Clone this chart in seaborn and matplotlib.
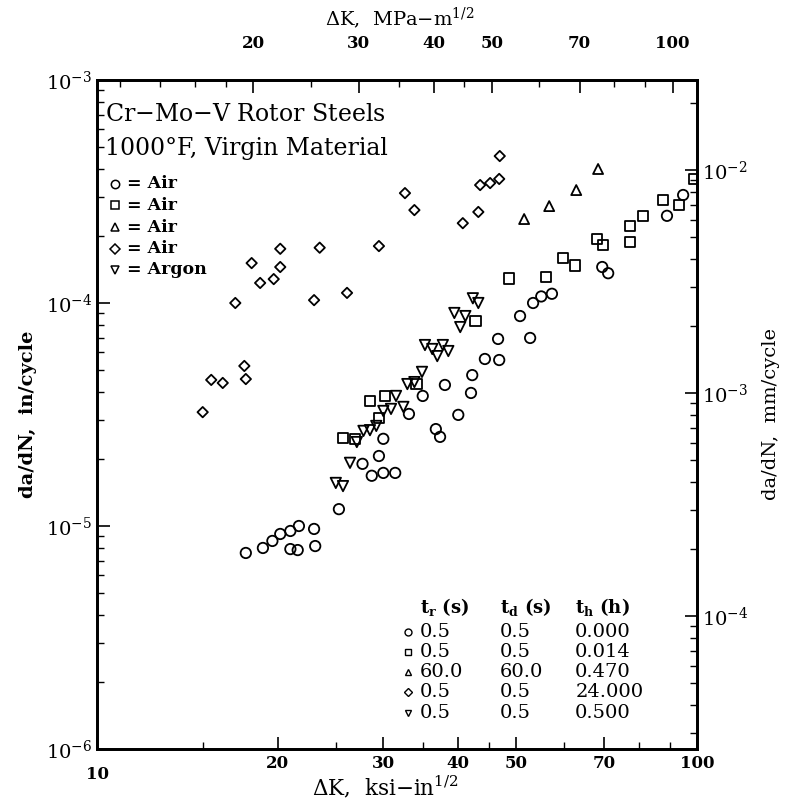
import numpy as np
import pandas as pd
import matplotlib
matplotlib.use("Agg")
import matplotlib.pyplot as plt
import seaborn as sns
from matplotlib.ticker import FixedLocator, NullFormatter, LogLocator

sns.set_theme(style="ticks")
plt.rcParams['font.family'] = ['DejaVu Serif']
plt.rcParams['mathtext.fontset'] = 'dejavuserif'
for k in ["text.color", "axes.labelcolor", "xtick.color", "ytick.color", "axes.edgecolor"]:
    plt.rcParams[k] = "black"

# ---- data: dK (ksi-in^1/2), da/dN (in/cycle) ----
circ_dk = [17.7, 18.9, 19.6, 20.2, 21.0, 21.7, 21.0, 21.6, 23.0, 23.1, 25.3, 27.7, 28.7, 30.0,
           31.4, 29.5, 30.0, 33.1, 34.9, 36.7, 37.3, 38.0, 40.0, 42.0, 42.2, 44.3, 46.6, 46.8,
           50.7, 53.3, 55.0, 57.3, 69.5, 71.1, 89.1, 94.8, 52.7]
circ_da = [7.57e-6, 7.97e-6, 8.57e-6, 9.21e-6, 9.5e-6, 1.0e-5, 7.88e-6, 7.8e-6, 9.7e-6, 8.13e-6,
           1.19e-5, 1.90e-5, 1.68e-5, 1.73e-5, 1.73e-5, 2.06e-5, 2.46e-5, 3.18e-5, 3.83e-5,
           2.72e-5, 2.51e-5, 4.29e-5, 3.15e-5, 3.95e-5, 4.75e-5, 5.61e-5, 6.9e-5, 5.55e-5,
           8.74e-5, 1.0e-4, 1.07e-4, 1.10e-4, 1.45e-4, 1.36e-4, 2.46e-4, 3.05e-4, 6.97e-5]

sq_dk = [25.7, 26.9, 28.5, 30.2, 29.5, 34.1, 42.7, 48.6, 56.0, 59.8, 62.6, 68.1, 69.7, 77.3,
         77.3, 81.3, 87.8, 93.3, 98.9]
sq_da = [2.48e-5, 2.46e-5, 3.64e-5, 3.83e-5, 3.05e-5, 4.33e-5, 8.3e-5, 1.29e-4, 1.31e-4,
         1.59e-4, 1.47e-4, 1.94e-4, 1.82e-4, 2.21e-4, 1.88e-4, 2.46e-4, 2.90e-4, 2.75e-4, 3.60e-4]

tri_dk = [51.5, 56.7, 62.9, 68.4]
tri_da = [2.38e-4, 2.72e-4, 3.21e-4, 3.99e-4]

dia_dk = [17.0, 18.1, 18.7, 19.7, 20.2, 20.2, 23.0, 23.5, 26.1, 29.5, 32.6, 33.8, 40.7, 43.2,
          43.5, 45.2, 46.8, 46.9, 15.0, 15.5, 16.2, 17.6, 17.7]
dia_da = [1.0e-4, 1.51e-4, 1.23e-4, 1.28e-4, 1.75e-4, 1.45e-4, 1.03e-4, 1.77e-4, 1.11e-4,
          1.80e-4, 3.11e-4, 2.61e-4, 2.28e-4, 2.56e-4, 3.38e-4, 3.45e-4, 3.6e-4, 4.56e-4,
          3.24e-5, 4.52e-5, 4.38e-5, 5.22e-5, 4.56e-5]

arg_dk = [42.3, 43.2, 39.4, 41.1, 40.3, 35.2, 36.2, 36.9, 37.7, 38.5, 34.8, 32.9, 33.8, 31.5,
          32.4, 30.9, 30.0, 29.2, 28.5, 27.8, 27.1, 26.4, 25.0, 25.7]
arg_da = [1.05e-4, 1.0e-4, 9.02e-5, 8.74e-5, 7.8e-5, 6.48e-5, 6.22e-5, 5.78e-5, 6.48e-5,
          6.09e-5, 4.91e-5, 4.33e-5, 4.42e-5, 3.83e-5, 3.42e-5, 3.35e-5, 3.28e-5, 2.81e-5,
          2.69e-5, 2.67e-5, 2.38e-5, 1.92e-5, 1.56e-5, 1.51e-5]

legend_env = ["Air", "Air", "Air", "Air", "Argon"]
tr_vals = ["0.5", "0.5", "60.0", "0.5", "0.5"]
td_vals = ["0.5", "0.5", "60.0", "0.5", "0.5"]
th_vals = ["0.000", "0.014", "0.470", "24.000", "0.500"]

x_ticks = [10, 20, 30, 40, 50, 70, 100]
top_ticks = [20, 30, 40, 50, 70, 100]

series = [
    ("circle", circ_dk, circ_da, "o", 56),
    ("square", sq_dk, sq_da, "s", 58),
    ("triangle", tri_dk, tri_da, "^", 52),
    ("diamond", dia_dk, dia_da, "D", 28),
    ("argon", arg_dk, arg_da, "v", 56),
]

fig = plt.figure(figsize=(7.94, 8.0), dpi=100)
ax = fig.add_axes([0.1222, 0.06375, 0.7557, 0.83625])

for name, xs, ys, mk, sz in series:
    df = pd.DataFrame({"dK": xs, "dadN": ys})
    sns.scatterplot(data=df, x="dK", y="dadN", marker=mk, s=sz, facecolors="none",
                    edgecolor="black", linewidth=1.3, ax=ax, legend=False, zorder=3)

ax.set_xscale("log")
ax.set_yscale("log")
ax.set_xlim(10, 100)
ax.set_ylim(1e-6, 1e-3)

# bottom x ticks
ax.xaxis.set_major_locator(FixedLocator(x_ticks))
ax.xaxis.set_minor_locator(FixedLocator([15, 25, 35, 45, 60, 80, 90]))
ax.set_xticklabels([str(v) for v in x_ticks], fontsize=12, fontweight="bold")
ax.xaxis.set_minor_formatter(NullFormatter())
for lbl in ax.get_xticklabels():
    if lbl.get_text() == "10":
        lbl.set_y(-0.017)
ax.set_xlabel(r"$\Delta$K,  ksi$-$in$^{1/2}$", fontsize=15.5)
ax.xaxis.set_label_coords(0.48, -0.037)

ax.yaxis.set_major_locator(FixedLocator([1e-6, 1e-5, 1e-4, 1e-3]))
ax.yaxis.set_minor_locator(LogLocator(base=10, subs=np.arange(2, 10)))
ax.yaxis.set_minor_formatter(NullFormatter())
ax.set_yticklabels([r"10$^{-6}$", r"10$^{-5}$", r"10$^{-4}$", r"10$^{-3}$"], fontsize=14)
ax.set_ylabel("da/dN,  in/cycle", fontsize=14, fontweight="bold", labelpad=6)

ax.tick_params(which="major", direction="in", length=9, width=1.2)
ax.tick_params(axis="x", which="major", pad=4)
ax.tick_params(which="minor", direction="in", length=5, width=1.0)
for sp in ax.spines.values():
    sp.set_linewidth(1.8)
    sp.set_color("black")

# top axis MPa-m^1/2
conv = 1.0988
axt = ax.twiny()
axt.set_xscale("log")
axt.set_xlim(10 * conv, 100 * conv)
axt.xaxis.set_major_locator(FixedLocator(top_ticks))
axt.xaxis.set_minor_locator(FixedLocator([12, 14, 16, 18, 25, 35, 45, 60, 80, 90]))
axt.set_xticklabels([str(v) for v in top_ticks], fontsize=12, fontweight="bold")
axt.xaxis.set_minor_formatter(NullFormatter())
axt.set_xlabel(r"$\Delta$K,  MPa$-$m$^{1/2}$", fontsize=14)
axt.xaxis.set_label_coords(0.505, 1.082)
axt.tick_params(which="major", direction="in", length=9, width=1.2, pad=20)
axt.tick_params(which="minor", direction="in", length=5, width=1.0)

# right axis mm/cycle
mm = 25.4
axr = ax.twinx()
axr.set_yscale("log")
axr.set_ylim(1e-6 * mm, 1e-3 * mm)
axr.yaxis.set_major_locator(FixedLocator([1e-4, 1e-3, 1e-2]))
axr.yaxis.set_minor_locator(LogLocator(base=10, subs=np.arange(2, 10)))
axr.yaxis.set_minor_formatter(NullFormatter())
axr.set_yticklabels([r"10$^{-4}$", r"10$^{-3}$", r"10$^{-2}$"], fontsize=14)
axr.set_ylabel("da/dN,  mm/cycle", fontsize=14, labelpad=10)
axr.tick_params(which="major", direction="in", length=9, width=1.2)
axr.tick_params(which="minor", direction="in", length=5, width=1.0)
for a in (axt, axr):
    for sp in a.spines.values():
        sp.set_linewidth(1.8)
        sp.set_color("black")

# title block
ax.text(0.013, 0.965, "Cr$-$Mo$-$V Rotor Steels", transform=ax.transAxes, fontsize=17,
        va="top", ha="left")
ax.text(0.013, 0.915, "1000°F, Virgin Material", transform=ax.transAxes, fontsize=17,
        va="top", ha="left")

# legend block (marker glyphs + text)
leg_y = [0.845, 0.813, 0.780, 0.748, 0.716]
markers = ["o", "s", "^", "D", "v"]
msz = [6, 6, 6, 5, 6]
for yy, mk, env, ms in zip(leg_y, markers, legend_env, msz):
    ax.plot([0.03], [yy], marker=mk, ms=ms, mfc="none", mec="black", mew=1.1,
            transform=ax.transAxes, ls="none")
    ax.text(0.05, yy, "= " + env, transform=ax.transAxes, fontsize=12.5,
            fontweight="bold", va="center", ha="left")

# condition table
hx = [0.538, 0.672, 0.797]
ax.text(hx[0], 0.213, r"t$_{\mathbf{r}}$ (s)", transform=ax.transAxes, fontsize=13,
        fontweight="bold", va="center")
ax.text(hx[1], 0.213, r"t$_{\mathbf{d}}$ (s)", transform=ax.transAxes, fontsize=13,
        fontweight="bold", va="center")
ax.text(hx[2], 0.213, r"t$_{\mathbf{h}}$ (h)", transform=ax.transAxes, fontsize=13,
        fontweight="bold", va="center")
row_y = [0.175, 0.145, 0.115, 0.085, 0.054]
for yy, mk, ms, a, b, c in zip(row_y, markers, [5, 5, 5, 4.5, 5], tr_vals, td_vals, th_vals):
    ax.plot([0.518], [yy], marker=mk, ms=ms, mfc="none", mec="black", mew=1.0,
            transform=ax.transAxes, ls="none")
    ax.text(hx[0], yy, a, transform=ax.transAxes, fontsize=14, va="center")
    ax.text(hx[1], yy, b, transform=ax.transAxes, fontsize=14, va="center")
    ax.text(hx[2], yy, c, transform=ax.transAxes, fontsize=14, va="center")

fig.savefig("out.png", dpi=100)
